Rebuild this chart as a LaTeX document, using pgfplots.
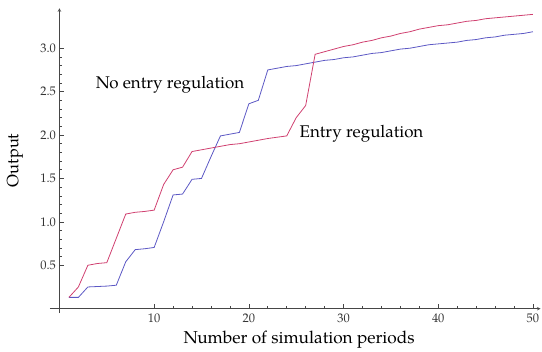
\documentclass[border=0pt]{standalone}
\usepackage{fontspec}
\setmainfont{TeX Gyre Pagella}
\usepackage{pgfplots}
\pgfplotsset{compat=1.18}
\usepackage{pgfplotstable}

\definecolor{regred}{RGB}{208,64,112}
\definecolor{noregblue}{RGB}{92,88,196}
\definecolor{axgray}{RGB}{70,70,70}

% Output per simulation period, with and without entry regulation
\pgfplotstableread{
t   y
1   0.13
2   0.25
3   0.50
4   0.52
5   0.53
6   0.81
7   1.09
8   1.11
9   1.12
10  1.135
11  1.43
12  1.60
13  1.63
14  1.81
15  1.83
16  1.85
17  1.87
18  1.89
19  1.90
20  1.92
21  1.94
22  1.96
23  1.975
24  1.99
25  2.20
26  2.34
27  2.93
28  2.96
29  2.99
30  3.02
31  3.04
32  3.07
33  3.09
34  3.12
35  3.14
36  3.17
37  3.19
38  3.22
39  3.24
40  3.26
41  3.27
42  3.29
43  3.31
44  3.32
45  3.34
46  3.35
47  3.36
48  3.37
49  3.38
50  3.39
}\entryreg

\pgfplotstableread{
t   y
1   0.13
2   0.13
3   0.25
4   0.255
5   0.26
6   0.27
7   0.54
8   0.68
9   0.69
10  0.705
11  1.00
12  1.31
13  1.32
14  1.49
15  1.50
16  1.75
17  1.99
18  2.01
19  2.03
20  2.36
21  2.40
22  2.75
23  2.77
24  2.79
25  2.80
26  2.82
27  2.84
28  2.86
29  2.87
30  2.89
31  2.90
32  2.92
33  2.94
34  2.95
35  2.97
36  2.99
37  3.00
38  3.02
39  3.04
40  3.05
41  3.06
42  3.07
43  3.09
44  3.10
45  3.12
46  3.13
47  3.15
48  3.16
49  3.17
50  3.19
}\noentryreg

\begin{document}
\begin{tikzpicture}
\begin{axis}[
  name=ax,
  scale only axis,
  width=490.5bp, height=304.7bp,
  xmin=-1, xmax=50.8,
  ymin=-0.05, ymax=3.46,
  axis lines=middle,
  axis line style={axgray, line width=0.6pt},
  xtick={10,20,30,40,50},
  ytick={0.5,1.0,1.5,2.0,2.5,3.0},
  yticklabel style={/pgf/number format/.cd, fixed, fixed zerofill, precision=1},
  minor x tick num=4,
  minor y tick num=4,
  tick align=inside,
  major tick length=5bp,
  minor tick length=3bp,
  tick style={axgray, line width=0.6pt},
  /pgf/number format/assume math mode=true,
  tick label style={font=\fontsize{12.5}{12.5}\selectfont, text=black!80},
  xticklabel style={yshift=-2bp},
  xlabel={Number of simulation periods},
  ylabel={Output},
  xlabel style={font=\fontsize{17.3}{17.3}\selectfont, at={(axis description cs:0.508,-0.089)}, anchor=center},
  ylabel style={font=\fontsize{16.5}{16.5}\selectfont, at={(axis description cs:-0.0714,0.501)}, anchor=center, rotate=90},
  clip=false,
]
\addplot[noregblue, line width=0.8pt] table[x=t, y=y] {\noentryreg};
\addplot[regred, line width=0.8pt] table[x=t, y=y] {\entryreg};
\node[font=\fontsize{17}{17}\selectfont] at (axis cs:11.67,2.575) {No entry regulation};
\node[font=\fontsize{17}{17}\selectfont] at (axis cs:31.9,2.02) {Entry regulation};
\end{axis}
\pgfresetboundingbox
\path[use as bounding box] ([shift={(-50bp,-39bp)}]ax.south west) rectangle ++(542bp,352bp);
\end{tikzpicture}
\end{document}
